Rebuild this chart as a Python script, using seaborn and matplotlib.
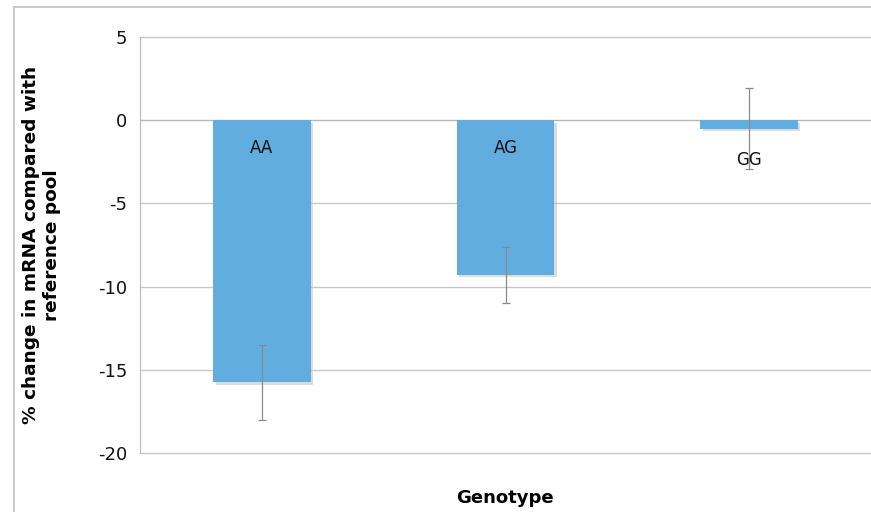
import numpy as np
import pandas as pd
import seaborn as sns
import matplotlib.pyplot as plt
import matplotlib.patheffects as pe
from matplotlib.patches import Rectangle

# data
genotypes = ['AA', 'AG', 'GG']
pct_change = [-15.75, -9.3, -0.5]
err = [2.25, 1.7, 2.45]
label_y = [-1.7, -1.7, -2.4]

df = pd.DataFrame({'Genotype': genotypes, 'change': pct_change})

sns.set_style('white')
plt.rcParams['font.family'] = ['DejaVu Sans']
plt.rcParams['axes.unicode_minus'] = False

fig = plt.figure(figsize=(8.71, 5.12), dpi=100)
ax = fig.add_axes([140/871, 1 - 453/512, 731/871, 416/512])

sns.barplot(data=df, x='Genotype', y='change', color='#62ade0', saturation=1,
            width=0.4, errorbar=None, linewidth=0, ax=ax, zorder=3)
for p in ax.patches:
    p.set_path_effects([pe.SimplePatchShadow(offset=(1.8, -1.8), shadow_rgbFace='#bbbbbb', alpha=0.5),
                        pe.Normal()])

ax.errorbar(range(len(genotypes)), pct_change, yerr=err, fmt='none',
            ecolor='#8a8a8a', elinewidth=0.9, capsize=3, capthick=0.9, zorder=4)

for i, g in enumerate(genotypes):
    ax.text(i, label_y[i], g, ha='center', va='center', fontsize=12, color='#111111', zorder=5)

ax.set_xlim(-0.5, 2.5)
ax.set_ylim(-20, 5)
ax.set_yticks([5, 0, -5, -10, -15, -20])
ax.yaxis.grid(True, color='#c8c8c8', linewidth=1)
ax.set_axisbelow(True)
for gl in ax.get_ygridlines():
    gl.set_clip_on(False)

for s in ['top', 'right']:
    ax.spines[s].set_visible(False)
ax.spines['left'].set_color('#b8b8b8')
ax.spines['bottom'].set_position(('data', 0))
ax.spines['bottom'].set_color('#b8b8b8')
ax.spines['bottom'].set_zorder(2)

ax.set_xticks([0.5, 1.5])
ax.set_xticklabels([])
ax.tick_params(axis='x', direction='out', length=5, color='#b8b8b8')
ax.tick_params(axis='y', direction='out', length=5, color='#b8b8b8', labelsize=13,
               labelcolor='#111111', pad=4)

ax.set_xlabel('')
ax.set_ylabel('% change in mRNA compared with\nreference pool', fontsize=13.3, fontweight='bold',
              color='black', labelpad=27)
fig.text(505/871, 1 - 498/512, 'Genotype', ha='center', va='center', fontsize=13,
         fontweight='bold', color='black')

# outer chart frame
fig.patches.append(Rectangle((14/871, -0.05), 1.1, 1 - 7/512 + 0.05, transform=fig.transFigure,
                             fill=False, edgecolor='#c0c0c0', linewidth=1.2))

fig.savefig('out.png', dpi=100)
